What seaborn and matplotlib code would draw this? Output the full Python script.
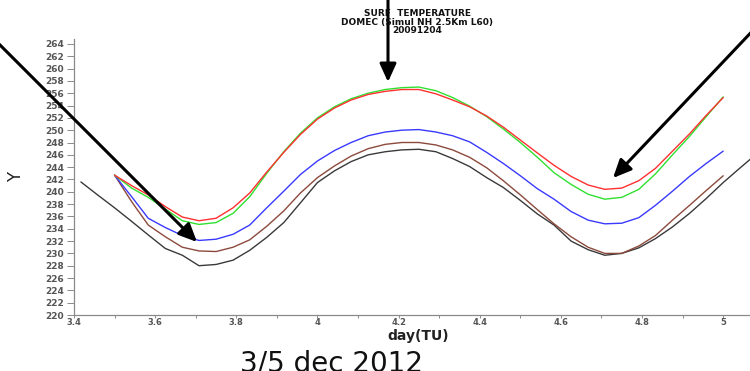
import numpy as np
import pandas as pd
import matplotlib
matplotlib.use("Agg")
import matplotlib.pyplot as plt
from matplotlib.patches import FancyArrowPatch
from matplotlib.ticker import FixedLocator, FixedFormatter
import seaborn as sns

# hourly simulation output, in days (TU)
day = [3.500, 3.542, 3.583, 3.625, 3.667, 3.708, 3.750, 3.792, 3.833, 3.875,
       3.917, 3.958, 4.000, 4.042, 4.083, 4.125, 4.167, 4.208, 4.250, 4.292,
       4.333, 4.375, 4.417, 4.458, 4.500, 4.542, 4.583, 4.625, 4.667, 4.708,
       4.750, 4.792, 4.833, 4.875, 4.917, 4.958, 5.000]

t_red = [242.7, 241.0, 239.5, 237.6, 235.9, 235.3, 235.7, 237.4, 239.8, 243.2,
         246.4, 249.3, 251.8, 253.6, 254.9, 255.8, 256.3, 256.6, 256.6, 255.9,
         254.9, 253.8, 252.3, 250.5, 248.4, 246.3, 244.3, 242.5, 241.1, 240.4,
         240.6, 241.8, 243.8, 246.6, 249.4, 252.4, 255.3]

t_green = [242.7, 240.6, 239.1, 237.2, 235.3, 234.7, 235.0, 236.5, 239.2, 243.0,
           246.5, 249.5, 252.0, 253.8, 255.1, 256.0, 256.6, 256.9, 257.0, 256.4,
           255.3, 253.9, 252.2, 250.2, 248.0, 245.6, 243.1, 241.2, 239.6, 238.8,
           239.1, 240.4, 242.9, 246.0, 249.0, 252.2, 255.4]

t_blue = [242.7, 239.2, 235.7, 234.2, 232.9, 232.1, 232.3, 233.1, 234.6, 237.4,
          240.1, 242.8, 245.0, 246.7, 248.0, 249.1, 249.7, 250.0, 250.1, 249.7,
          249.1, 248.1, 246.4, 244.6, 242.6, 240.5, 238.8, 236.8, 235.4, 234.8,
          234.9, 235.8, 237.8, 240.1, 242.5, 244.6, 246.6]

t_brown = [242.7, 238.4, 234.6, 232.7, 231.0, 230.4, 230.3, 231.0, 232.2, 234.4,
           236.9, 239.8, 242.3, 244.2, 245.8, 247.0, 247.7, 248.0, 248.0, 247.6,
           246.8, 245.6, 243.9, 241.8, 239.5, 237.1, 234.8, 232.7, 231.0, 230.0,
           230.0, 231.2, 232.9, 235.4, 237.8, 240.2, 242.6]

day_obs = [3.417, 3.458, 3.500, 3.542, 3.583, 3.625, 3.667, 3.708, 3.750, 3.792,
           3.833, 3.875, 3.917, 3.958, 4.000, 4.042, 4.083, 4.125, 4.167, 4.208,
           4.250, 4.292, 4.333, 4.375, 4.417, 4.458, 4.500, 4.542, 4.583, 4.625,
           4.667, 4.708, 4.750, 4.792, 4.833, 4.875, 4.917, 4.958, 5.000, 5.042,
           5.083]

t_obs = [241.6, 239.5, 237.4, 235.2, 233.0, 230.8, 229.7, 228.0, 228.2, 228.9,
         230.5, 232.6, 235.0, 238.2, 241.5, 243.4, 244.9, 246.0, 246.5, 246.8,
         246.9, 246.5, 245.4, 244.1, 242.3, 240.7, 238.6, 236.4, 234.6, 232.0,
         230.6, 229.7, 230.0, 230.9, 232.4, 234.3, 236.5, 238.9, 241.5, 243.9,
         246.2]

y_ticks = list(range(220, 265, 2))
x_ticks = [3.4, 3.6, 3.8, 4.0, 4.2, 4.4, 4.6, 4.8, 5.0]
x_labels = ["3.4", "3.6", "3.8", "4", "4.2", "4.4", "4.6", "4.8", "5"]
x_minor = [3.5, 3.7, 3.9, 4.1, 4.3, 4.5, 4.7, 4.9]

title_lines = ["SURF  TEMPERATURE", "DOMEC (Simul NH 2.5Km L60)", "20091204"]

runs = ["obs", "brown", "blue", "green", "red"]
colors = {"obs": "#3a3a3a", "brown": "#8c4a3c", "blue": "#3a3aff",
          "green": "#30e030", "red": "#ff3030"}

frames = [pd.DataFrame({"day": day_obs, "T": t_obs, "run": "obs"})]
for name, vals in [("brown", t_brown), ("blue", t_blue),
                   ("green", t_green), ("red", t_red)]:
    frames.append(pd.DataFrame({"day": day, "T": vals, "run": name}))
df = pd.concat(frames, ignore_index=True)

sns.set_theme(style="white")
plt.rcParams["font.family"] = ["DejaVu Sans"]

W, H = 750, 371
fig = plt.figure(figsize=(W / 100, H / 100), dpi=100)
ax = fig.add_axes([74 / W, (H - 315) / H, (W - 74) / W, (315 - 39) / H])

sns.lineplot(data=df, x="day", y="T", hue="run", hue_order=runs,
             palette=colors, estimator=None, sort=False, legend=False,
             linewidth=1.0, ax=ax)

ax.set_xlim(3.4, 5.066)
ax.set_ylim(220, 264.8)

ax.yaxis.set_major_locator(FixedLocator(y_ticks))
ax.xaxis.set_major_locator(FixedLocator(x_ticks))
ax.xaxis.set_major_formatter(FixedFormatter(x_labels))
ax.xaxis.set_minor_locator(FixedLocator(x_minor))

for side in ["top", "right"]:
    ax.spines[side].set_visible(False)
for side in ["left", "bottom"]:
    ax.spines[side].set_color("#8a8a8a")
    ax.spines[side].set_linewidth(0.9)

ax.tick_params(axis="y", which="major", direction="out", length=5, width=0.7,
               color="#8a8a8a", pad=2, labelsize=6.5, labelcolor="#555555",
               left=True)
ax.tick_params(axis="x", which="both", direction="out", length=2.5, width=0.7,
               color="#8a8a8a", pad=0, labelsize=6, labelcolor="#555555",
               bottom=True)
for lab in ax.get_xticklabels() + ax.get_yticklabels():
    lab.set_fontweight("bold")

ax.set_xlabel("day(TU)", fontsize=10, fontweight="bold", color="#222222")
ax.xaxis.set_label_coords(0.509, -0.05)
ax.set_ylabel("Y", fontsize=12, color="#222222")
ax.yaxis.set_label_coords(-0.072, 0.5)

fig.text(417 / W, 1 - 22 / H, "\n".join(title_lines), ha="center",
         va="center", multialignment="center", linespacing=0.95,
         fontsize=6.5, fontweight="bold", color="#111111")

fig.text(331 / W, 1 - 349 / H, "3/5 dec 2012", ha="center", va="top",
         fontsize=20, color="#111111")

# pointer arrows, in figure pixel coordinates
def pointer(x0, y0, x1, y1):
    arr = FancyArrowPatch((x0 / W, 1 - y0 / H), (x1 / W, 1 - y1 / H),
                          transform=fig.transFigure,
                          arrowstyle="-|>,head_length=11,head_width=5",
                          mutation_scale=1, lw=2.2, color="black",
                          shrinkA=0, shrinkB=0)
    fig.add_artist(arr)

pointer(-5, 40, 197, 242)
pointer(388, -2, 388, 82)
pointer(760, 23, 613, 178)

fig.savefig("out.png", dpi=100)
